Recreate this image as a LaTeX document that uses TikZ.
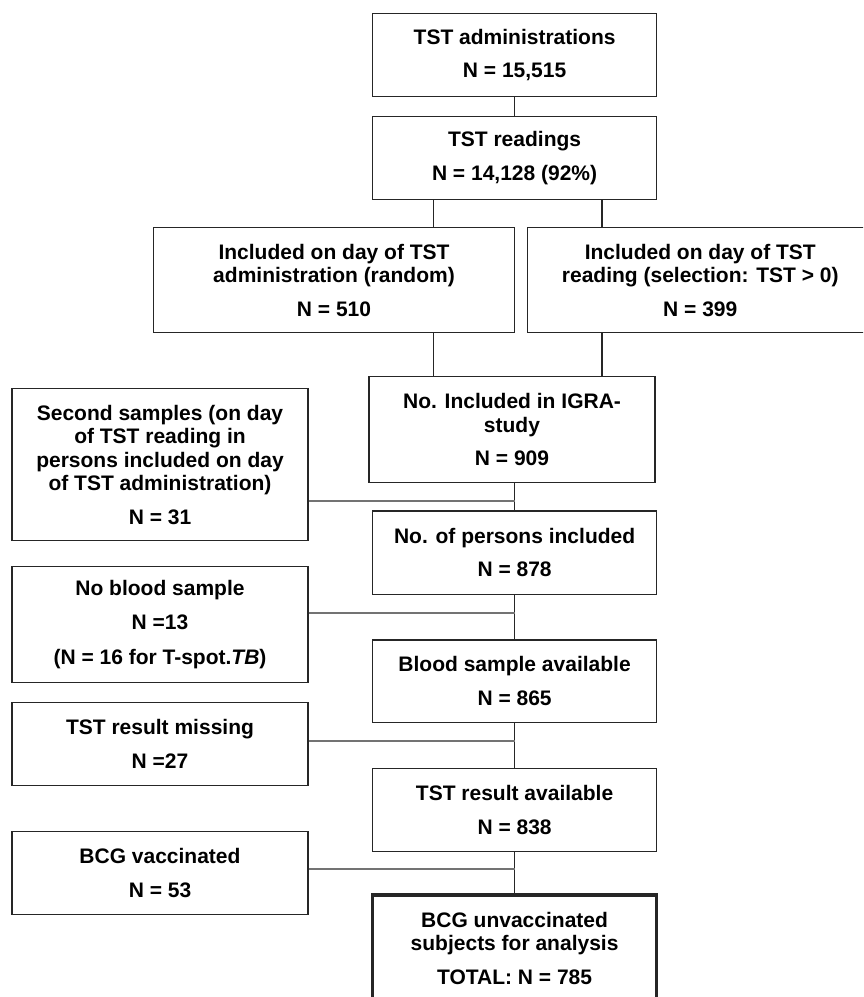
\documentclass[tikz,border=0pt]{standalone}
\usepackage{fontspec}
\setmainfont{Liberation Sans}
\tikzset{
  box/.style={draw=black!85, line width=1.3pt, align=center, inner sep=0pt,
    font=\bfseries\fontsize{21}{23.5}\selectfont},
  mainw/.style={box, minimum width=284pt},
  sidew/.style={box, minimum width=296pt},
  link/.style={draw=black!85, line width=1.2pt},
  side/.style={draw=black!55, line width=2.2pt},
}
\begin{document}
\begin{tikzpicture}[x=1pt,y=-1pt]  % inclusion flow chart
  \useasboundingbox (0,0) rectangle (863,997);
  \clip (0,0) rectangle (863,997);
  \node[mainw, minimum height=83.4pt] (adm) at (514.6,55) {TST administrations\\[10pt]N = 15,515};
  \node[mainw, minimum height=82.6pt] (read) at (514.6,158) {TST readings\\[10pt]N = 14,128 (92\%)};
  \node[box, minimum width=361pt, minimum height=105pt] (random) at (334,280.2)
    {Included on day of TST\\administration (random)\\[10pt]N = 510};
  \node[box, minimum width=346pt, minimum height=105pt] (select) at (700.3,280.2)
    {Included on day of TST\\reading (selection: TST > 0)\\[10pt]N = 399};
  \node[box, minimum width=286pt, minimum height=106pt] (igra) at (512,429.7)
    {No. Included in IGRA-\\study\\[10pt]N = 909};
  \node[sidew, minimum height=152.4pt] (second) at (160,464.5)
    {Second samples (on day\\of TST reading in\\persons included on day\\of TST administration)\\[10pt]N = 31};
  \node[mainw, minimum height=83.3pt] (persons) at (514.6,552.7) {No. of persons included\\[10pt]N = 878};
  \node[sidew, minimum height=116pt] (noblood) at (160,624.7)
    {No blood sample\\[10pt]N =13\\[12pt](N = 16 for T-spot.\textit{TB})};
  \node[mainw, minimum height=82.3pt] (blood) at (514.6,681.2) {Blood sample available\\[10pt]N = 865};
  \node[sidew, minimum height=83.4pt] (missing) at (160,744) {TST result missing\\[10pt]N =27};
  \node[mainw, minimum height=83.4pt] (tstok) at (514.6,810) {TST result available\\[10pt]N = 838};
  \node[sidew, minimum height=82.6pt] (bcg) at (160,873) {BCG vaccinated\\[10pt]N = 53};
  \node[mainw, minimum height=106pt, line width=3.2pt] (total) at (514.6,948)
    {BCG unvaccinated\\subjects for analysis\\[10pt]TOTAL: N = 785};
  % branch points
  \coordinate (lft) at (433.5,0);
  \coordinate (rgt) at (602,0);
  \coordinate (j1) at (514.6,500.7);
  \coordinate (j2) at (514.6,612.7);
  \coordinate (j3) at (514.6,741);
  \coordinate (j4) at (514.6,868.7);
  \draw[link] (adm) -- (read);
  \draw[link] (read.south -| lft) -- (random.north -| lft);
  \draw[link] (read.south -| rgt) -- (select.north -| rgt);
  \draw[link] (random.south -| lft) -- (igra.north -| lft);
  \draw[link] (select.south -| rgt) -- (igra.north -| rgt);
  \draw[link] (igra.south -| persons) -- (persons.north);
  \draw[link] (persons) -- (blood);
  \draw[link] (blood) -- (tstok);
  \draw[link] (tstok) -- (total);
  \draw[side] (second.east |- j1) -- (j1);
  \draw[side] (noblood.east |- j2) -- (j2);
  \draw[side] (missing.east |- j3) -- (j3);
  \draw[side] (bcg.east |- j4) -- (j4);
\end{tikzpicture}
\end{document}
